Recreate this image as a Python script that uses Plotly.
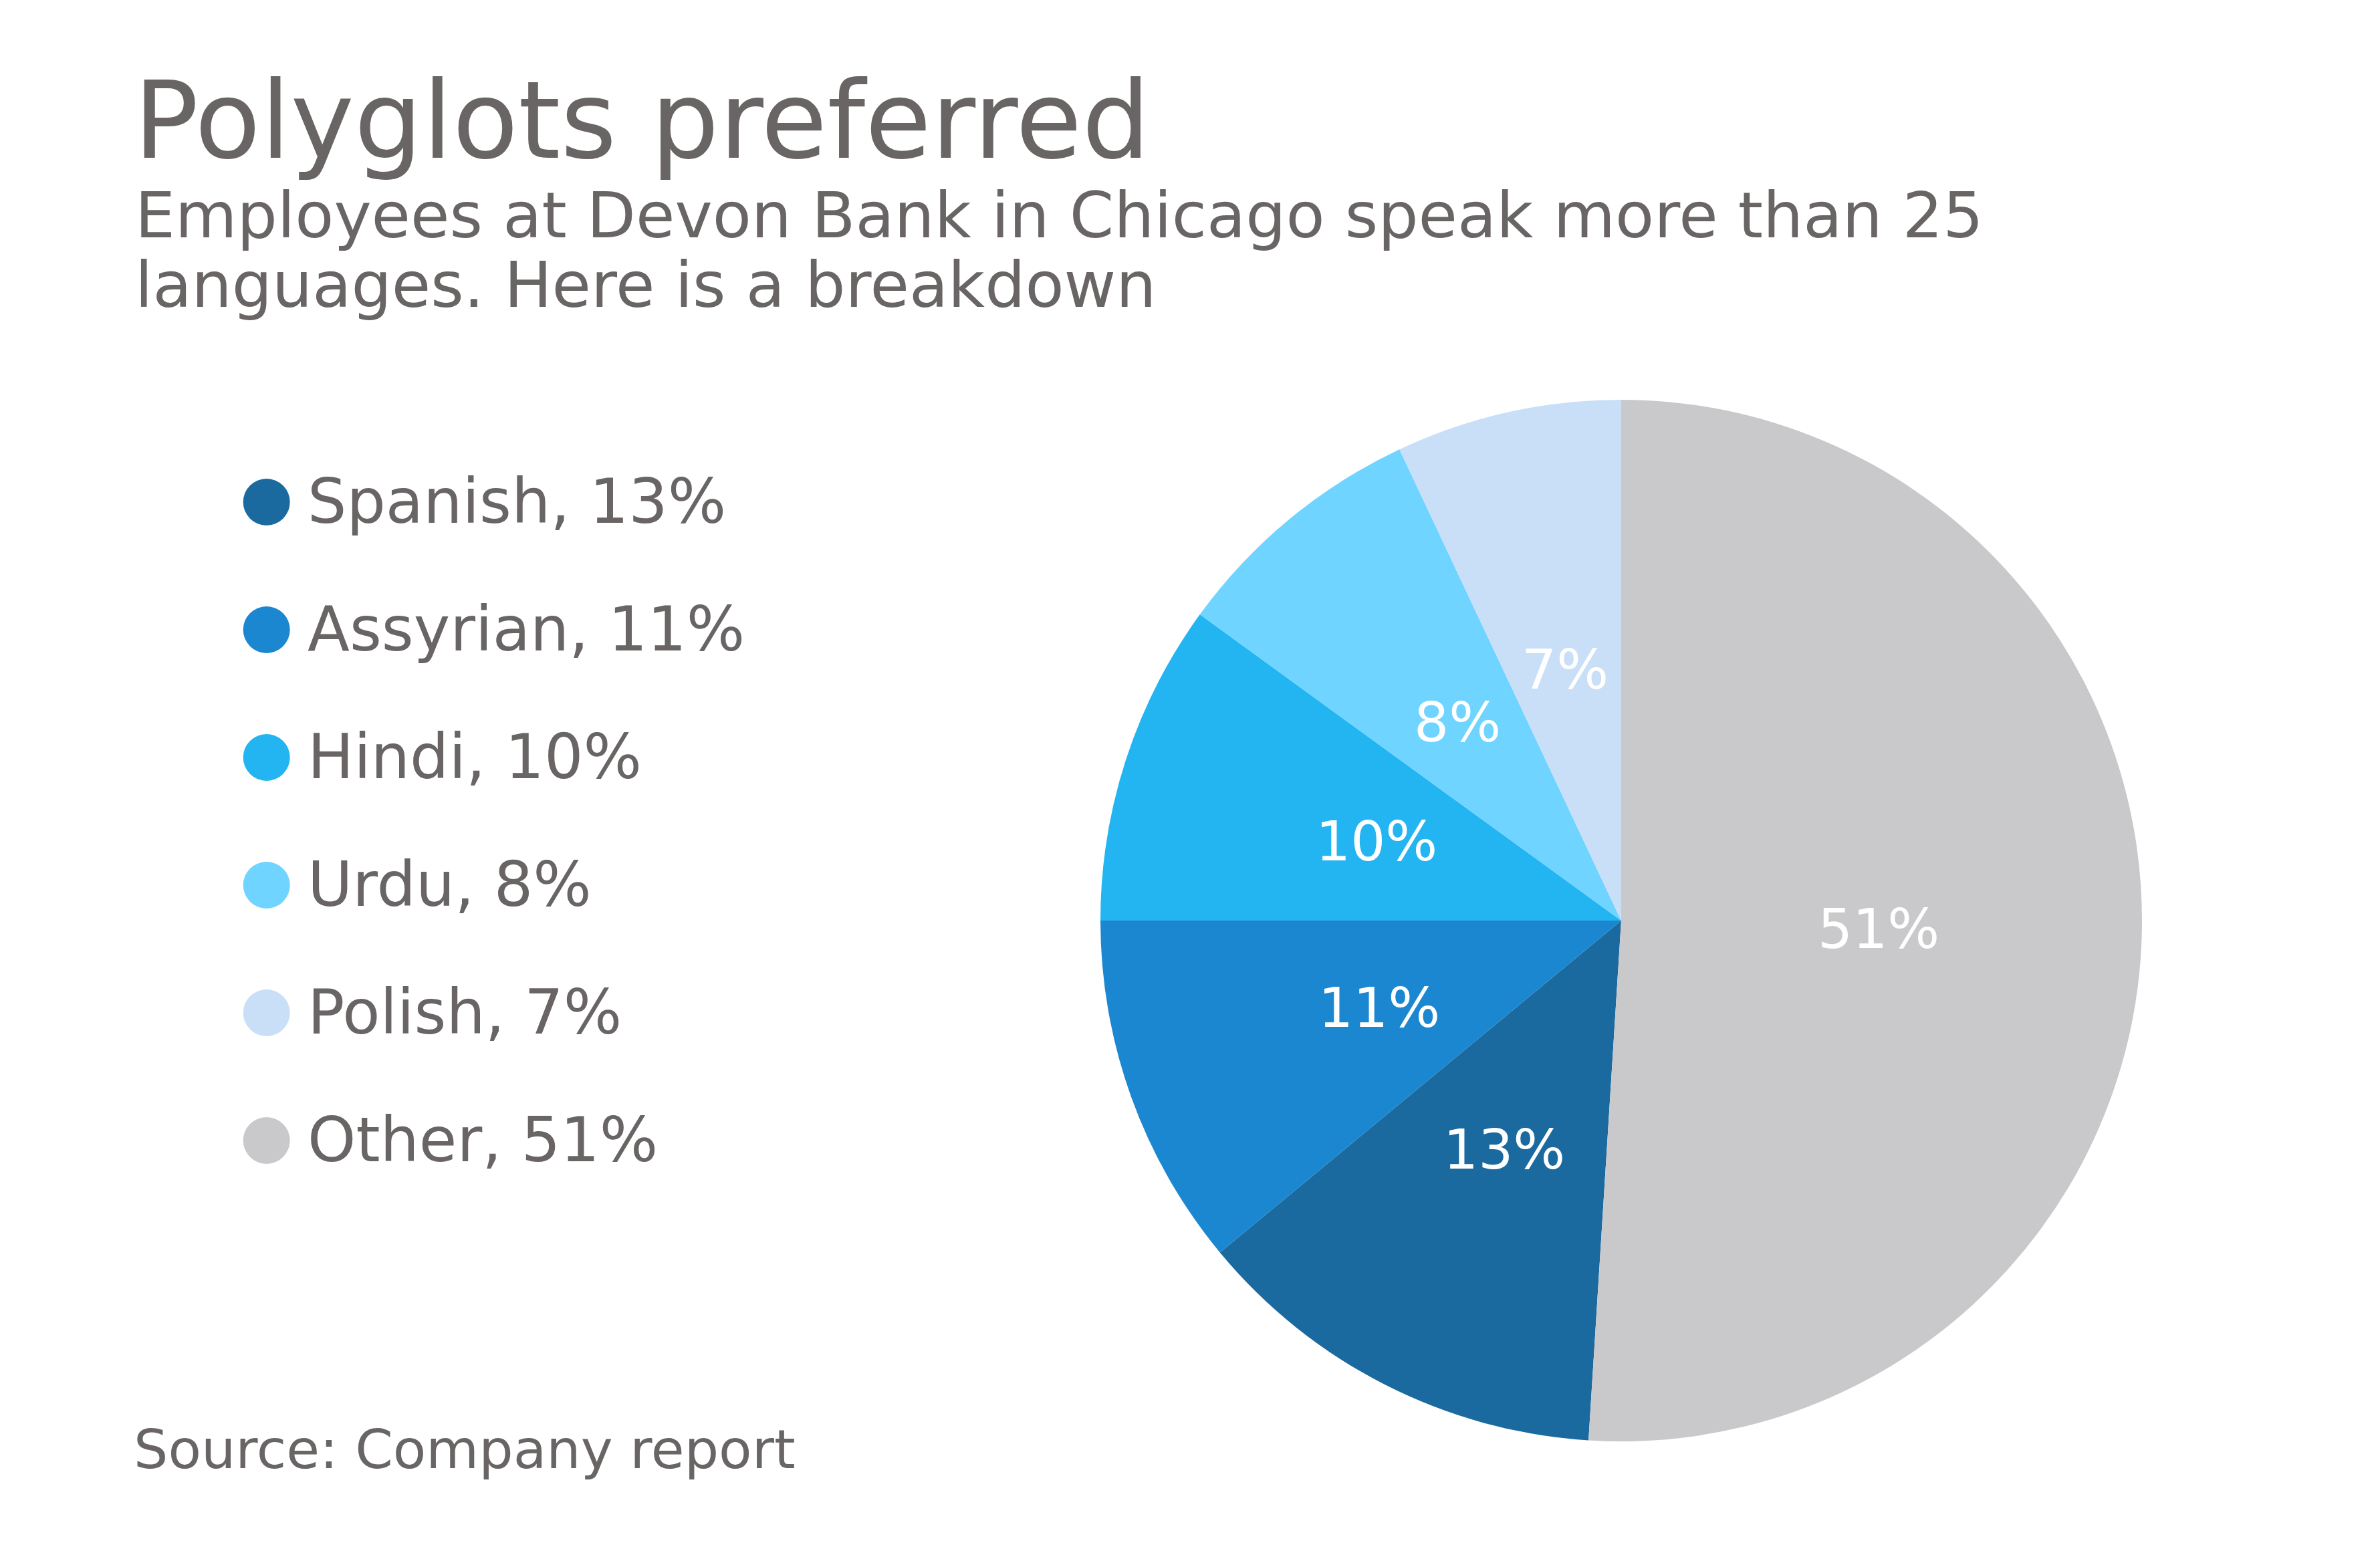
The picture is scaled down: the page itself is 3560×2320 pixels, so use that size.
import math
import plotly.graph_objects as go

# ---- data ----
languages = ["Spanish", "Assyrian", "Hindi", "Urdu", "Polish", "Other"]
shares = [13, 11, 10, 8, 7, 51]
colors = ["#1A699F", "#1B87D0", "#23B5F1", "#6FD4FF", "#C9DFF8", "#C9C9CB"]

title_text = "Polyglots preferred"
subtitle_lines = ["Employees at Devon Bank in Chicago speak more than 25",
                  "languages. Here is a breakdown"]
source_text = "Source: Company report"

FONT = "DejaVu Sans"
GRAY = "#686564"
W, H = 3544, 2304          # page body adds an 8px margin on each side


def px(x):                  # horizontal pixel in the figure -> paper
    return x / W


def py(y):                  # vertical pixel (from top) in the figure -> paper
    return 1 - y / H


total = sum(shares)
# slices run clockwise; the last slice ("Other") starts at 12 o'clock
start_angle = 360.0 * shares[-1] / total
mid_angles = []
acc = 0.0
for v in shares:
    mid_angles.append(start_angle + 360.0 * (acc + v / 2.0) / total)
    acc += v

# pie geometry (figure pixels)
CX, CY, R = 2417, 1369, 779
pie_domain = dict(x=[px(CX - R), px(CX + R)], y=[py(CY + R), py(CY - R)])

fig = go.Figure()

fig.add_trace(go.Pie(
    labels=languages,
    values=shares,
    sort=False,
    direction="clockwise",
    rotation=start_angle if start_angle <= 180 else start_angle - 360,
    marker=dict(colors=colors, line=dict(width=0)),
    textinfo="none",
    hoverinfo="label+percent",
    showlegend=False,
    domain=pie_domain,
))

# custom legend: big circles
fig.add_trace(go.Scatter(
    x=[0] * len(languages),
    y=list(range(len(languages))),
    mode="markers",
    marker=dict(size=70, color=colors, line=dict(width=0), symbol="circle"),
    hoverinfo="skip",
    showlegend=False,
    xaxis="x", yaxis="y",
))

annotations = []
for i, (lang, v) in enumerate(zip(languages, shares)):
    annotations.append(dict(
        x=0, y=i, xref="x", yref="y",
        text=f"{lang}, {v}%",
        showarrow=False, xanchor="left", yanchor="middle", xshift=59,
        font=dict(family=FONT, size=92, color=GRAY),
    ))

# slice labels at half radius along each slice's mid-angle
LABEL_R = 0.494 * R
for v, a in zip(shares, mid_angles):
    t = math.radians(a)
    annotations.append(dict(
        x=px(CX + LABEL_R * math.sin(t)), y=py(CY - LABEL_R * math.cos(t)),
        xref="paper", yref="paper", text=f"{v}%",
        showarrow=False, xanchor="center", yanchor="middle",
        font=dict(family=FONT, size=82, color="white"),
    ))

annotations.append(dict(
    x=px(190), y=py(77), xref="paper", yref="paper", text=title_text,
    showarrow=False, xanchor="left", yanchor="top",
    font=dict(family=FONT, size=161, color=GRAY),
))
annotations.append(dict(
    x=px(192), y=py(257), xref="paper", yref="paper", text=subtitle_lines[0],
    showarrow=False, xanchor="left", yanchor="top",
    font=dict(family=FONT, size=95, color=GRAY),
))
annotations.append(dict(
    x=px(192), y=py(361.5), xref="paper", yref="paper", text=subtitle_lines[1],
    showarrow=False, xanchor="left", yanchor="top",
    font=dict(family=FONT, size=95, color=GRAY),
))
annotations.append(dict(
    x=px(190), y=py(2111), xref="paper", yref="paper", text=source_text,
    showarrow=False, xanchor="left", yanchor="top",
    font=dict(family=FONT, size=81, color=GRAY),
))

fig.update_layout(
    width=W, height=H,
    margin=dict(l=0, r=0, t=0, b=0, pad=0),
    paper_bgcolor="white",
    plot_bgcolor="rgba(0,0,0,0)",
    font=dict(family=FONT, color=GRAY),
    xaxis=dict(domain=[0, 1], range=[-1.1024, 8.8976], visible=False, fixedrange=True),
    yaxis=dict(domain=[0, 1], range=[8.173, -3.890], visible=False, fixedrange=True),
    annotations=annotations,
    showlegend=False,
)

fig.write_html("out.html")
